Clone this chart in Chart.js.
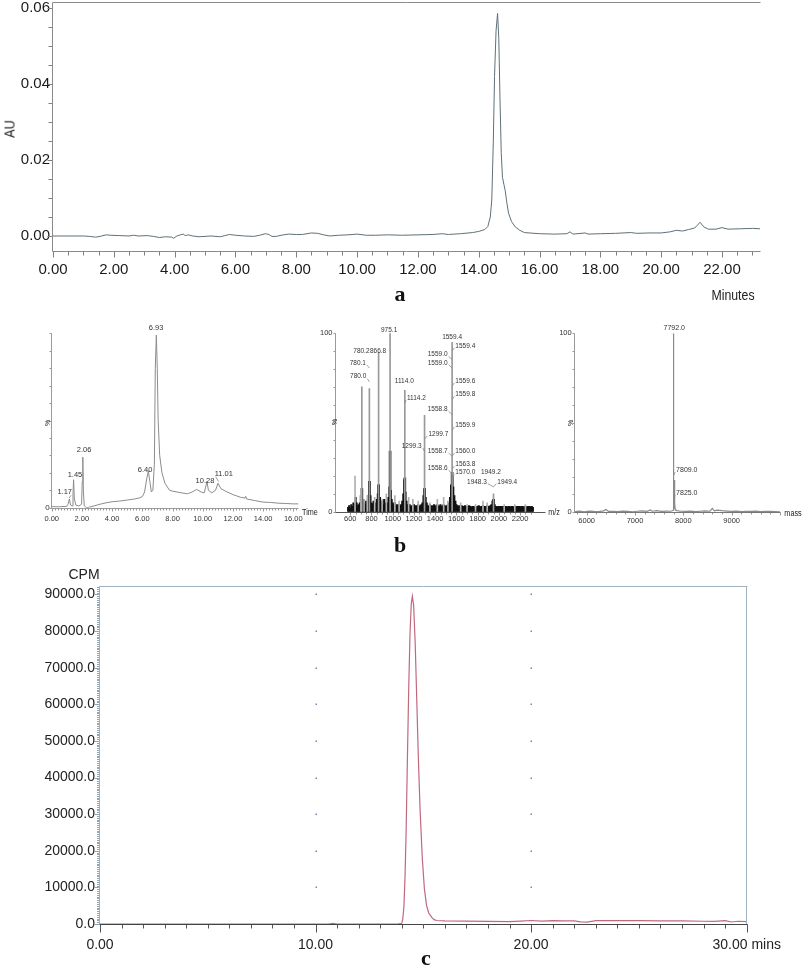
<!DOCTYPE html>
<html><head><meta charset="utf-8">
<script src="https://cdn.jsdelivr.net/npm/chart.js@4.4.1/dist/chart.umd.min.js"></script>
<style>
html,body{margin:0;padding:0;background:#fff;width:803px;height:968px;overflow:hidden;position:relative;}
canvas{position:absolute;}
.t{position:absolute;white-space:nowrap;line-height:1;transform:translate(-50%,-50%);color:#222;}
.n{font-family:'Liberation Sans Narrow','Arial Narrow','Liberation Sans',sans-serif;}
.s{font-family:'Liberation Serif','Times New Roman',serif;font-weight:bold;font-size:22px;color:#111;}
</style></head><body>
<canvas id="ca" width="803" height="310" style="left:0;top:0"></canvas>
<canvas id="cb1" width="310" height="220" style="left:0;top:320px"></canvas>
<canvas id="cb2" width="260" height="220" style="left:300px;top:320px"></canvas>
<canvas id="cb3" width="243" height="220" style="left:560px;top:320px"></canvas>
<canvas id="cc" width="803" height="408" style="left:0;top:560px"></canvas>

<div class="t n" style="left:9px;top:129px;font-size:15px;transform:translate(-50%,-50%) rotate(-90deg) scaleX(0.85)">AU</div>
<div class="t n" style="left:733px;top:294px;font-size:15px;transform:translate(-50%,-50%) scaleX(0.82)">Minutes</div>
<div class="t s" style="left:400px;top:294px">a</div>
<div class="t n" style="left:47px;top:423px;font-size:7px;transform:translate(-50%,-50%) rotate(-90deg)">%</div>
<div class="t n" style="left:334px;top:422px;font-size:7px;transform:translate(-50%,-50%) rotate(-90deg)">%</div>
<div class="t n" style="left:570px;top:423px;font-size:7px;transform:translate(-50%,-50%) rotate(-90deg)">%</div>
<div class="t n" style="left:310px;top:512px;font-size:8.5px;transform:translate(-50%,-50%) scaleX(0.85)">Time</div>
<div class="t n" style="left:554px;top:512px;font-size:8.5px;transform:translate(-50%,-50%) scaleX(0.85)">m/z</div>
<div class="t n" style="left:793px;top:513px;font-size:8.5px;transform:translate(-50%,-50%) scaleX(0.85)">mass</div>
<div class="t s" style="left:400px;top:545px">b</div>
<div class="t" style="left:84px;top:574px;font-size:14px;font-family:'Liberation Sans',Arial,sans-serif">CPM</div>
<div class="t s" style="left:426px;top:958px">c</div>

<script>
// ---------------- DATA ----------------
// Panel a: HPLC UV trace (minutes, AU)
const aTrace = [[0,0],[0.5,0],[1.0,0],[1.2,-0.0001],[1.4,-0.0003],[1.55,-0.0001],[1.75,0.0003],[1.9,0.0002],[2.2,0.0001],[2.5,0],[2.65,0.0002],[2.8,0],[3.1,0.0001],[3.3,-0.0001],[3.5,-0.0004],[3.7,-0.0002],[3.9,-0.0003],[3.97,-0.0006],[4.05,-0.0001],[4.15,0.0002],[4.28,0.0005],[4.35,0.0001],[4.45,0.0003],[4.6,0],[4.8,-0.0002],[5.0,-0.0001],[5.2,0],[5.5,-0.0002],[5.65,0.0001],[5.8,0.0004],[6.0,0.0002],[6.3,0],[6.6,-0.0001],[6.8,0.0002],[6.98,0.0006],[7.1,0.0004],[7.2,-0.0001],[7.35,-0.0001],[7.5,0.0002],[7.75,0.0005],[8.0,0.0004],[8.2,0.0004],[8.5,0.0008],[8.7,0.0007],[8.9,0.0003],[9.1,0],[9.4,0.0002],[9.7,0.0003],[10.0,0.0005],[10.3,0.0002],[10.6,0.0002],[11.0,0.0003],[11.5,0.0002],[12.0,0.0003],[12.5,0.0004],[12.8,0.0006],[13.0,0.0004],[13.4,0.0006],[13.8,0.0009],[14.0,0.0012],[14.2,0.0017],[14.3,0.0025],[14.38,0.005],[14.43,0.0095],[14.48,0.025],[14.52,0.042],[14.57,0.054],[14.62,0.0586],[14.66,0.052],[14.7,0.036],[14.74,0.022],[14.78,0.0155],[14.83,0.0135],[14.87,0.012],[14.92,0.009],[14.98,0.006],[15.08,0.0038],[15.2,0.0024],[15.35,0.0015],[15.5,0.0009],[16.0,0.0006],[16.5,0.0005],[16.9,0.0006],[17.0,0.0011],[17.1,0.0005],[17.5,0.0008],[17.6,0.0005],[18.0,0.0006],[18.5,0.0007],[19.0,0.0009],[19.2,0.0007],[19.6,0.0008],[20.0,0.0008],[20.3,0.0011],[20.5,0.0015],[20.7,0.0013],[20.9,0.0017],[21.1,0.0021],[21.28,0.0036],[21.4,0.0024],[21.55,0.0018],[21.8,0.0018],[22.0,0.0022],[22.2,0.0018],[22.6,0.0019],[23.0,0.002],[23.25,0.0019]];
const aXTicks = [0,2,4,6,8,10,12,14,16,18,20,22];
const aXLabels = ['0.00','2.00','4.00','6.00','8.00','10.00','12.00','14.00','16.00','18.00','20.00','22.00'];
const aYTicks = [0,0.02,0.04,0.06];
const aYLabels = ['0.00','0.02','0.04','0.06'];

// Panel b (left): LC trace (min, %)
const b1Trace = [[0,0.6],[0.5,0.5],[1.0,0.8],[1.08,2],[1.17,5],[1.25,1.5],[1.35,1],[1.41,8],[1.45,16],[1.5,5],[1.6,1.5],[1.8,1],[1.98,2],[2.02,15],[2.06,29],[2.1,9],[2.16,1],[2.3,0],[2.5,0.3],[2.8,1],[3.2,2],[3.6,2.8],[4.0,3.4],[4.5,3.8],[5.0,4.4],[5.5,5],[5.8,5.6],[6.0,6.3],[6.15,9],[6.3,17],[6.4,21],[6.5,15],[6.6,9],[6.7,10],[6.8,25],[6.86,80],[6.93,99],[6.99,80],[7.05,50],[7.15,30],[7.3,20],[7.5,14],[7.8,10],[8.0,9.5],[8.3,9],[8.6,8.5],[9.0,8],[9.3,9],[9.6,10.5],[9.9,9],[10.1,8.5],[10.2,12],[10.28,15],[10.38,10],[10.6,8.5],[10.85,10],[11.01,14],[11.2,11],[11.5,9.5],[12.0,7.5],[12.5,6],[12.8,5.5],[12.85,6.5],[12.9,5],[13.5,4],[14.0,3.2],[14.5,3],[15.0,2.6],[15.5,2.4],[16.0,2.2],[16.35,2.2]];
const b1XTicks = [0,2,4,6,8,10,12,14,16];
const b1XLabels = ['0.00','2.00','4.00','6.00','8.00','10.00','12.00','14.00','16.00'];
const b1YTicks = [0];
const b1YLabels = ['0'];
const b1Notes = [
  {t:'1.17',x:0.86,y:8.8,to:[1.15,5.5]},{t:'1.45',x:1.54,y:19},{t:'2.06',x:2.14,y:33},
  {t:'6.40',x:6.18,y:21.8},{t:'6.93',x:6.91,y:103},{t:'10.28',x:10.15,y:15.5},{t:'11.01',x:11.4,y:19.5,to:[11.05,15]}];

// Panel b (middle): ESI m/z spectrum (%)
const b2GrassStart = 580, b2GrassStep = 10;
const b2Grass = [2.5,3.5,2,4,3,5,4,8,5,3.5, 4,5,9,13,7,5,4,6,5,9, 17,9,5,4.5,6,4,5,7,10,15, 8,5,6,4,7,5,4.5,5,8,14,
  12,7,5,4,5,3.5,4,3,4,3.5, 4,6,10,18,11,6,4,3.5,4,3, 3.5,3,4,3,3.5,3,4,3,3.5,4, 5,9,13,8,5,3.5,3,4,3,3.5,
  3,4,3,3.5,4,3,3.5,4,3,3.5, 4,3.5,3,3.5,4,5,8,15,20,14, 9,6,4,3.5,3,3.5,3,3.5,3,3, 3.5,3,2.5,3,3.5,3,2.5,3,3,2.5,
  3,2.5,3,3.5,3,2.5,3,3.5,3,2.5, 3,3.5,3,3,3.5,4,6,7,4,3, 3,2.5,3,3,2.5,3,3,2.5,3,3, 2.5,3,3,2.5,3,3,2.5,3,3,2.5,
  3,3,2.5,3,3,2.5,3,3,2.5,3, 3,3,2.5,3,2.5];
const b2SpikeMz = [645,700,730,760,830,900,940,1020,1060,1150,1190,1240,1350,1420,1480,1520,1640,1700,1780,1850,1890,2050,2150,2250];
const b2SpikeInt = [20,13,7,9,8,7,10,9,6,8,7,6,5,7,8,6,5,4,4,6,5,4,4,4];
const b2PeakMz = [709,780,866.8,975.1,1114,1299.7,1559.4,1949.2];
const b2PeakInt = [70,69,89,100,68,54,95,10];
const b2CoreInt = [13,17,15,34,19,13,22,7];
const b2XTicks = [600,800,1000,1200,1400,1600,1800,2000,2200];
const b2XLabels = ['600','800','1000','1200','1400','1600','1800','2000','2200'];
const b2YTicks = [0,100];
const b2YLabels = ['0','100'];
const b2Notes = [
  {t:'975.1',x:966,y:102},{t:'780.2',x:705,y:90},{t:'866.8',x:862,y:90},
  {t:'780.1',x:748,y:83.3,a:'right',to:[780,80.5]},{t:'780.0',x:751,y:75.7,a:'right',to:[780,72.8]},
  {t:'1114.0',x:1109,y:72.9},{t:'1114.2',x:1134,y:63.7,a:'left',to:[1114,60.8]},
  {t:'1299.7',x:1336,y:43.6,a:'left',to:[1300,40.7]},{t:'1299.3',x:1272,y:36.8,a:'right',to:[1300,33.9]},
  {t:'1559.4',x:1559,y:97.6},
  {t:'1559.4',x:1590,y:92.9,a:'left',to:[1559,90]},{t:'1559.0',x:1517,y:88.2,a:'right',to:[1559,85.3]},
  {t:'1559.0',x:1517,y:83.5,a:'right',to:[1559,80.6]},{t:'1559.6',x:1590,y:73.3,a:'left',to:[1559,70.4]},
  {t:'1559.8',x:1590,y:65.8,a:'left',to:[1559,62.9]},{t:'1558.8',x:1517,y:57.4,a:'right',to:[1559,54.5]},
  {t:'1559.9',x:1590,y:48.6,a:'left',to:[1559,45.7]},{t:'1558.7',x:1517,y:34,a:'right',to:[1559,31.1]},
  {t:'1560.0',x:1590,y:34,a:'left',to:[1559,31.1]},{t:'1558.6',x:1517,y:24.3,a:'right',to:[1559,21.4]},
  {t:'1563.8',x:1590,y:26.7,a:'left',to:[1559,23.8]},{t:'1570.0',x:1590,y:21.9,a:'left',to:[1559,19]},
  {t:'1949.2',x:1925,y:21.9},{t:'1948.3',x:1887,y:16.8,a:'right',to:[1949,13.9]},{t:'1949.4',x:1985,y:16.8,a:'left',to:[1949,13.9]}];

// Panel b (right): deconvoluted mass spectrum (%)
const b3Trace = [[5760,0.4],[5850,0.6],[5950,0.3],[6050,0.7],[6150,0.5],[6250,0.4],[6350,0.8],[6400,1.6],[6450,0.5],[6550,0.6],[6650,0.4],[6750,0.7],[6850,0.5],[6950,0.3],[7050,0.6],[7150,0.8],[7250,0.5],[7320,1.3],[7350,0.6],[7450,0.9],[7550,0.5],[7650,0.7],[7740,0.6],[7786,1],[7792,100],[7798,4],[7804,3],[7809,18],[7814,3],[7820,2],[7825,5],[7830,2],[7840,1.5],[7860,1],[7900,0.8],[7950,0.6],[8050,0.5],[8150,0.7],[8250,0.4],[8350,0.6],[8450,0.8],[8550,0.6],[8600,2.2],[8640,0.8],[8700,1.2],[8800,0.9],[8900,0.7],[9000,0.5],[9100,0.7],[9200,0.4],[9300,0.6],[9400,0.5],[9500,0.7],[9600,0.4],[9700,0.6],[9800,0.5],[9900,0.4],[10000,0.3]];
const b3XTicks = [6000,7000,8000,9000];
const b3XLabels = ['6000','7000','8000','9000'];
const b3YTicks = [0,100];
const b3YLabels = ['0','100'];
const b3Notes = [{t:'7792.0',x:7812,y:103},{t:'7809.0',x:7850,y:23.6,a:'left',to:[7800,20.5]},{t:'7825.0',x:7850,y:10.9,a:'left',to:[7812,7.5]}];

// Panel c: radio-HPLC trace (min, CPM)
const cTime = [0,2,4,6,8,10,10.6,10.8,11.0,12,13,13.8,14.0,14.05,14.1,14.15,14.2,14.26,14.32,14.38,14.44,14.49,14.55,14.62,14.7,14.77,14.85,14.95,15.05,15.15,15.25,15.39,15.5,15.62,16,17,18,19,19.5,20,20.5,21,21.5,22,22.3,22.6,23,23.5,24,25,26,27,28,28.5,29,29.3,29.6,30];
const cCPM = [0,0,0,0,0,0,0,200,0,0,0,0,200,1500,5000,13000,25000,45000,64000,79000,87500,89500,87000,77000,60000,45000,31000,18000,9500,5000,3000,1800,1200,950,850,800,700,650,800,950,800,900,850,850,600,500,900,950,900,900,850,850,750,700,900,550,750,650];
const cXTicks = [0,10,20,30];
const cXLabels = ['0.00','10.00','20.00','30.00 mins'];
const cYTicks = [0,10000,20000,30000,40000,50000,60000,70000,80000,90000];
const cYLabels = ['0.0','10000.0','20000.0','30000.0','40000.0','50000.0','60000.0','70000.0','80000.0','90000.0'];

// ---------------- PLUGINS ----------------
const axesPlugin = {
  id: 'axes',
  afterDraw(chart, args, o) {
    const ctx = chart.ctx, ca = chart.chartArea;
    ctx.save();
    ctx.lineWidth = 1;
    const L = Math.round(ca.left) - 0.5, R = Math.round(ca.right) - 0.5, T = Math.round(ca.top) + 0.5, B = Math.round(ca.bottom) + 0.5;
    (o.ticks || []).forEach(t => {
      const s = chart.scales[t.axis];
      ctx.strokeStyle = t.color; ctx.beginPath();
      const n = Math.round((t.to - t.from) / t.step);
      for (let i = 0; i <= n; i++) {
        const v = t.from + i * t.step;
        const r = v / t.major;
        const isMajor = Math.abs(r - Math.round(r)) < 1e-6;
        const len = isMajor ? t.majorLen : t.minorLen;
        const p = Math.round(s.getPixelForValue(v)) + 0.5;
        if (t.axis === 'x') { ctx.moveTo(p, B); ctx.lineTo(p, B + len); }
        else { ctx.moveTo(L, p); ctx.lineTo(L - len, p); }
      }
      ctx.stroke();
    });
    (o.dots || []).forEach(d => {
      ctx.fillStyle = d.color;
      d.xs.forEach(xv => d.ys.forEach(yv => {
        const px = chart.scales.x.getPixelForValue(xv), py = chart.scales.y.getPixelForValue(yv);
        ctx.fillRect(Math.round(px) - 0.5, Math.round(py) - 0.5, 1.5, 1.5);
      }));
    });
    const ln = o.lines || {};
    const seg = (c, x1, y1, x2, y2) => { ctx.strokeStyle = c; ctx.beginPath(); ctx.moveTo(x1, y1); ctx.lineTo(x2, y2); ctx.stroke(); };
    if (ln.top) seg(ln.top, L, T, R + 1, T);
    if (ln.right) seg(ln.right, R, T, R, B);
    if (ln.left) seg(ln.left, L, T, L, B);
    if (ln.bottom) seg(ln.bottom, L, B, R + 1, B);
    ctx.restore();
  }
};
const notesPlugin = {
  id: 'notes',
  afterDatasetsDraw(chart, args, o) {
    if (!o.items) return;
    const ctx = chart.ctx, x = chart.scales.x, y = chart.scales.y;
    ctx.save();
    ctx.font = o.font; ctx.fillStyle = o.color; ctx.strokeStyle = o.leader; ctx.lineWidth = 0.8;
    ctx.textBaseline = 'middle';
    o.items.forEach(it => {
      const px = x.getPixelForValue(it.x), py = y.getPixelForValue(it.y);
      const a = it.a || 'center';
      ctx.textAlign = a;
      ctx.fillText(it.t, px, py);
      if (it.to) {
        const w = ctx.measureText(it.t).width;
        const tx = x.getPixelForValue(it.to[0]), ty = y.getPixelForValue(it.to[1]);
        let sx = px, sy = py + 2;
        if (a === 'right') sx = px + 1;
        else if (a === 'left') sx = px - 1;
        else { sx = tx > px ? px + w / 2 - 1 : px - w / 2 + 1; sy = py + 3; }
        ctx.beginPath(); ctx.moveTo(sx, sy); ctx.lineTo(tx, ty); ctx.stroke();
      }
    });
    ctx.restore();
  }
};
Chart.register(axesPlugin, notesPlugin);
Chart.defaults.animation = false;

const NARROW = "'Liberation Sans Narrow','Arial Narrow','Liberation Sans',sans-serif";
const pts = arr => arr.map(p => ({x: p[0], y: p[1]}));
function fit(size, isX) {
  return s => { if (isX) s.height = size; else s.width = size; s.paddingLeft = 0; s.paddingRight = 0; s.paddingTop = 0; s.paddingBottom = 0; };
}
function axis(o) {
  return {
    type: 'linear', min: o.min, max: o.max,
    afterFit: fit(o.size, o.isX),
    afterBuildTicks: s => { s.ticks = o.ticks.map(v => ({value: v})); },
    grid: {display: false, drawTicks: false}, border: {display: false},
    ticks: {autoSkip: false, maxRotation: 0, minRotation: 0, padding: o.pad, color: o.color,
      font: {family: o.family, size: o.fs}, callback: (v, i) => o.labels[i]}
  };
}
function baseOpts(pad, xs, ys, plugins) {
  return {
    responsive: false, animation: false, events: [], devicePixelRatio: 1,
    layout: {autoPadding: false, padding: pad},
    plugins: Object.assign({legend: {display: false}, tooltip: {enabled: false}}, plugins),
    scales: {x: xs, y: ys}
  };
}

// ---------------- PANEL A ----------------
new Chart(document.getElementById('ca'), {
  type: 'line',
  data: {datasets: [{data: pts(aTrace), borderColor: '#5f7078', borderWidth: 1, pointRadius: 0, tension: 0}]},
  options: baseOpts({left: 0, top: 2, right: 43, bottom: 0},
    axis({min: 0, max: 23.25, size: 59, isX: true, ticks: aXTicks, labels: aXLabels, pad: 10, color: '#1a1a1a', family: NARROW, fs: 15}),
    axis({min: -0.00395, max: 0.0616, size: 53, isX: false, ticks: aYTicks, labels: aYLabels, pad: 3, color: '#1a1a1a', family: NARROW, fs: 15}),
    {axes: {ticks: [
      {axis: 'x', from: 0, to: 23, step: 0.5, major: 2, majorLen: 6, minorLen: 4, color: '#808080'},
      {axis: 'y', from: 0, to: 0.06, step: 0.005, major: 0.02, majorLen: 5, minorLen: 4, color: '#808080'}],
      lines: {top: '#8a8a8a', left: '#8a8a8a', bottom: '#8a8a8a'}}})
});

// ---------------- PANEL B1 ----------------
new Chart(document.getElementById('cb1'), {
  type: 'line',
  data: {datasets: [{data: pts(b1Trace), borderColor: '#8c8c8c', borderWidth: 1, pointRadius: 0, tension: 0}]},
  options: baseOpts({left: 0, top: 13.3, right: 11.7, bottom: 0},
    axis({min: 0, max: 16.33, size: 32.3, isX: true, ticks: b1XTicks, labels: b1XLabels, pad: 7, color: '#333', family: NARROW, fs: 7.5}),
    axis({min: 0, max: 100, size: 51.7, isX: false, ticks: b1YTicks, labels: b1YLabels, pad: 2, color: '#333', family: NARROW, fs: 8}),
    {axes: {ticks: [
      {axis: 'x', from: 0, to: 16.2, step: 0.2, major: 2, majorLen: 3, minorLen: 2, color: '#999'},
      {axis: 'y', from: 0, to: 100, step: 10, major: 10, majorLen: 2, minorLen: 2, color: '#999'}],
      lines: {left: '#9a9a9a', bottom: '#9a9a9a'}},
     notes: {items: b1Notes, font: "7.5px " + NARROW, color: '#333', leader: '#888'}})
});

// ---------------- PANEL B2 ----------------
const grassData = b2Grass.map((v, i) => ({x: b2GrassStart + i * b2GrassStep, y: v}));
new Chart(document.getElementById('cb2'), {
  type: 'bar',
  data: {datasets: [
    {data: b2SpikeMz.map((m, i) => ({x: m, y: b2SpikeInt[i]})), backgroundColor: '#b0b0b0', barThickness: 1, grouped: false},
    {data: b2PeakMz.map((m, i) => ({x: m, y: b2PeakInt[i]})), backgroundColor: '#999', barThickness: 1, grouped: false},
    {data: grassData, backgroundColor: '#111', barThickness: 1.5, grouped: false},
    {data: b2PeakMz.map((m, i) => ({x: m, y: b2CoreInt[i]})), backgroundColor: '#222', barThickness: 2, grouped: false}
  ]},
  options: baseOpts({left: 0, top: 13.3, right: 15, bottom: 0},
    axis({min: 575, max: 2325, size: 28.3, isX: true, ticks: b2XTicks, labels: b2XLabels, pad: 3, color: '#333', family: NARROW, fs: 7.5}),
    axis({min: 0, max: 100, size: 36, isX: false, ticks: b2YTicks, labels: b2YLabels, pad: 3.5, color: '#333', family: NARROW, fs: 7.5}),
    {axes: {ticks: [
      {axis: 'x', from: 600, to: 2300, step: 50, major: 200, majorLen: 3, minorLen: 2, color: '#999'},
      {axis: 'y', from: 0, to: 100, step: 10, major: 10, majorLen: 2, minorLen: 2, color: '#999'}],
      lines: {left: '#9a9a9a', bottom: '#555'}},
     notes: {items: b2Notes, font: "6.5px " + NARROW, color: '#333', leader: '#888'}})
});

// ---------------- PANEL B3 ----------------
new Chart(document.getElementById('cb3'), {
  type: 'line',
  data: {datasets: [{data: pts(b3Trace), borderColor: '#8a8a8a', borderWidth: 1.2, pointRadius: 0, tension: 0}]},
  options: baseOpts({left: 0, top: 13.3, right: 23, bottom: 0},
    axis({min: 5758, max: 10000, size: 27.7, isX: true, ticks: b3XTicks, labels: b3XLabels, pad: 4.5, color: '#333', family: NARROW, fs: 7.5}),
    axis({min: 0, max: 100, size: 15, isX: false, ticks: b3YTicks, labels: b3YLabels, pad: 3.3, color: '#333', family: NARROW, fs: 7.5}),
    {axes: {ticks: [
      {axis: 'x', from: 5800, to: 10000, step: 200, major: 1000, majorLen: 3, minorLen: 2, color: '#999'},
      {axis: 'y', from: 0, to: 100, step: 10, major: 10, majorLen: 2, minorLen: 2, color: '#999'}],
      lines: {left: '#9a9a9a', bottom: '#777'}},
     notes: {items: b3Notes, font: "7px " + NARROW, color: '#333', leader: '#888'}})
});

// ---------------- PANEL C ----------------
new Chart(document.getElementById('cc'), {
  type: 'line',
  data: {datasets: [{data: cTime.map((t, i) => ({x: t, y: cCPM[i]})), borderColor: '#c0697e', borderWidth: 1.2, pointRadius: 0, tension: 0, clip: false}]},
  options: baseOpts({left: 0, top: 26, right: 56.3, bottom: 0},
    axis({min: 0, max: 30, size: 44, isX: true, ticks: cXTicks, labels: cXLabels, pad: 13, color: '#222', family: "'Liberation Sans',Arial,sans-serif", fs: 14}),
    axis({min: 0, max: 92300, size: 100, isX: false, ticks: cYTicks, labels: cYLabels, pad: 5, color: '#222', family: "'Liberation Sans',Arial,sans-serif", fs: 14}),
    {axes: {ticks: [
      {axis: 'x', from: 0, to: 30, step: 1, major: 10, majorLen: 8, minorLen: 4, color: '#555'},
      {axis: 'y', from: 0, to: 92000, step: 500, major: 10000, majorLen: 5, minorLen: 2.5, color: '#8fa3b3'}],
      dots: [{xs: [10, 20], ys: [10000,20000,30000,40000,50000,60000,70000,80000,90000], color: '#7a88b0'}],
      lines: {top: '#9fb1bf', right: '#9fb1bf', left: '#9fb1bf', bottom: '#444'}}})
});
</script>
</body></html>
